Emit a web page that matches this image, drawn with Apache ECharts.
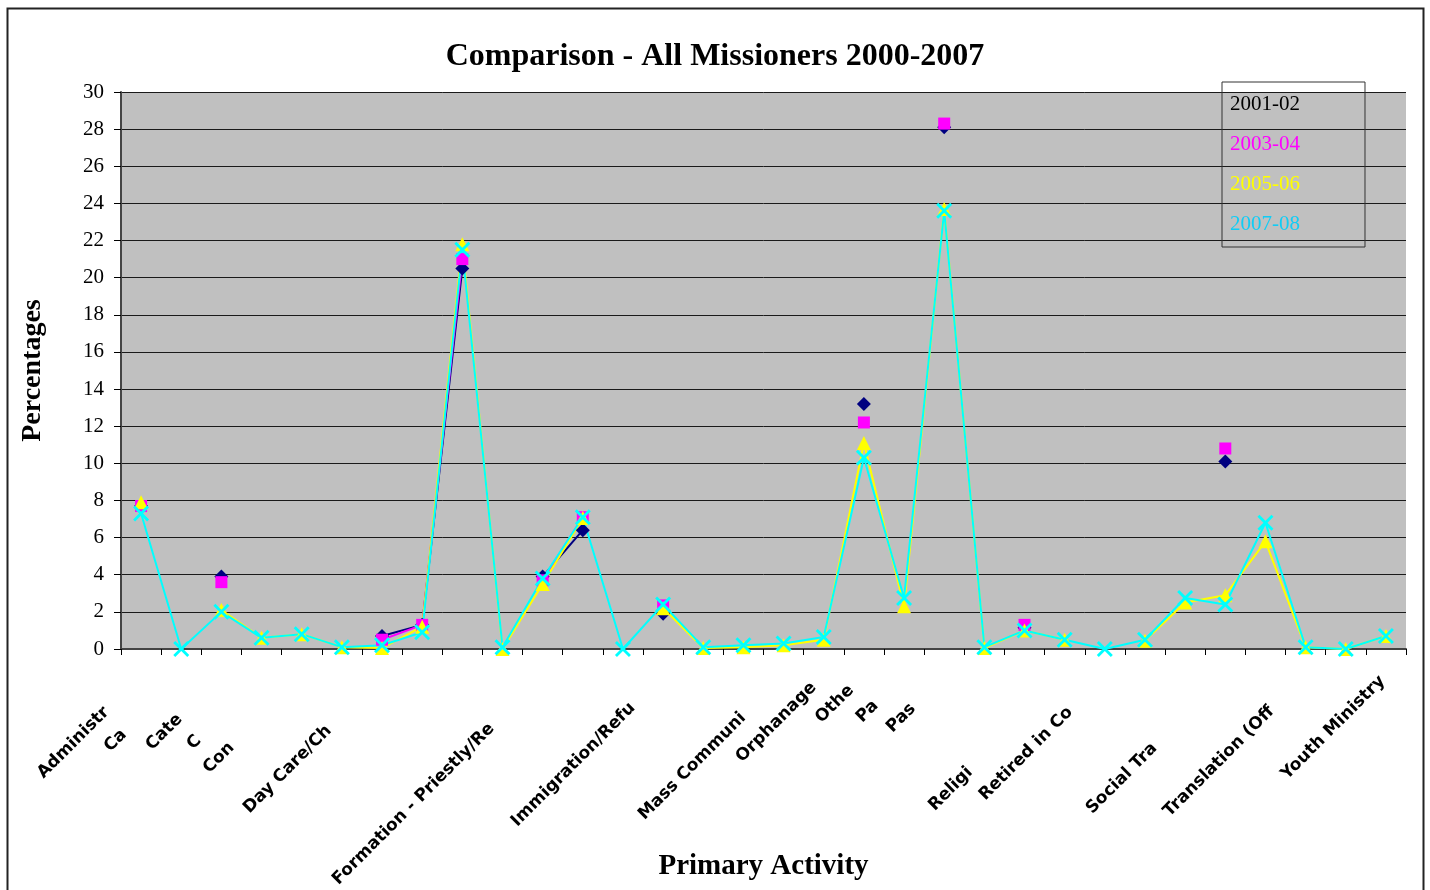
<!DOCTYPE html>
<html>
<head>
<meta charset="utf-8">
<script src="https://cdn.jsdelivr.net/npm/echarts@6/dist/echarts.min.js"></script>
<style>
  html, body { margin: 0; padding: 0; background: #fff; }
  #chart { width: 1430px; height: 890px; }
</style>
</head>
<body>
<div id="chart"></div>
<script>
// category labels as they show on the axis (cut off in the original)
var categories = [
  'Administr', 'Ca', 'Cate', 'C', 'Con', '', 'Day Care/Ch', '', '', '',
  'Formation - Priestly/Re', '', '', 'Immigration/Refu', '', '', 'Mass Communi', 'Orphanage', 'Othe', 'Pa',
  'Pas', '', '', 'Religi', 'Retired in Co', '', '', 'Social Tra', '', 'Translation (Off',
  '', 'Youth Ministry'
];

var seriesNames = ['2001-02', '2003-04', '2005-06', '2007-08'];

// percentages
var y2001 = [7.7, null, 3.9, null, null, null, 0.7, 1.3, 20.5, null,
  3.9, 6.4, null, 1.9, null, null, null, null, 13.2, null,
  28.1, null, 1.15, null, null, null, null, 10.1, null, null,
  null, null];
var y2003 = [7.7, null, 3.6, null, null, null, 0.5, 1.3, 21.0, null,
  3.7, 7.1, null, 2.35, null, null, null, null, 12.2, null,
  28.3, null, 1.3, null, null, null, null, 10.8, null, null,
  null, null];
var y2005 = [7.9, null, 2.1, 0.6, 0.8, 0.1, 0.05, 1.2, 21.8, 0,
  3.5, 7.05, null, 2.2, 0.05, 0.1, 0.2, 0.5, 11.1, 2.3,
  23.7, 0.05, 1.0, 0.5, null, 0.45, 2.5, 2.9, 5.8, 0.1,
  0, 0.7];
var y2007 = [7.3, 0, 2.0, 0.6, 0.8, 0.1, 0.2, 0.9, 21.5, 0.1,
  3.8, 7.1, 0, 2.4, 0.1, 0.2, 0.3, 0.65, 10.3, 2.75,
  23.6, 0.1, 1.0, 0.5, 0, 0.5, 2.75, 2.4, 6.8, 0.1,
  0, 0.7];

// extra space after each label so the cut labels sit lower, like the original
var labelShift = [49, 81, 59, 89, 99, 0, 75, 0, 0, 0,
  72, 0, 0, 43, 0, 0, 57, 14, 18, 40,
  44, 0, 0, 134, 49, 0, 0, 100, 0, 48,
  0, 5];

var colors = ['#000080', '#FF00FF', '#FFFF00', '#00FFFF'];
var legendColors = ['#000000', '#FF00FF', '#FFFF00', '#11CCF5'];
var crossPath = 'path://M0,1.5L1.5,0L6,4.5L10.5,0L12,1.5L7.5,6L12,10.5L10.5,12L6,7.5L1.5,12L0,10.5L4.5,6Z';

var rich = {};
labelShift.forEach(function (s, i) {
  rich['p' + i] = {
    fontFamily: 'DejaVu Sans',
    fontWeight: 'bold',
    fontSize: 17,
    color: '#000',
    padding: [0, s, 0, 0]
  };
});

var chart = echarts.init(document.getElementById('chart'));

function makeSeries(idx, data, symbol, size) {
  return {
    name: seriesNames[idx],
    type: 'line',
    data: data,
    symbol: symbol,
    symbolSize: size,
    showSymbol: true,
    showAllSymbol: true,
    connectNulls: false,
    lineStyle: { color: colors[idx], width: 2 },
    itemStyle: { color: colors[idx], borderWidth: 0 },
    emphasis: { disabled: true }
  };
}

var option = {
  animation: false,
  backgroundColor: '#fff',
  title: {
    text: 'Comparison - All Missioners 2000-2007',
    left: 'center',
    top: 36,
    textStyle: {
      fontFamily: 'Liberation Serif',
      fontWeight: 'bold',
      fontSize: 32,
      color: '#000'
    }
  },
  legend: {
    orient: 'vertical',
    left: 1222,
    top: 82,
    icon: 'none',
    itemWidth: 0,
    itemHeight: 20,
    itemGap: 19,
    padding: [12, 65, 12, 3],
    borderColor: '#333',
    borderWidth: 1,
    selectedMode: false,
    textStyle: { fontFamily: 'Liberation Serif', fontSize: 21, lineHeight: 21, padding: 0 },
    data: seriesNames.map(function (n, i) {
      return { name: n, icon: 'none', textStyle: { color: legendColors[i] } };
    })
  },
  grid: {
    left: 121,
    right: 24,
    top: 92,
    bottom: 241,
    outerBoundsMode: 'none',
    containLabel: false,
    show: true,
    backgroundColor: '#C0C0C0',
    borderWidth: 0
  },
  xAxis: {
    type: 'category',
    data: categories,
    boundaryGap: true,
    name: 'Primary Activity',
    nameLocation: 'middle',
    nameGap: 203,
    nameMoveOverlap: false,
    nameTextStyle: {
      fontFamily: 'Liberation Serif',
      fontWeight: 'bold',
      fontSize: 29,
      color: '#000'
    },
    axisLine: { show: true, lineStyle: { color: '#444', width: 2 } },
    axisTick: { show: true, interval: 0, length: 6, lineStyle: { color: '#000' } },
    splitLine: { show: false },
    axisLabel: {
      interval: 0,
      rotate: 45,
      margin: 26,
      hideOverlap: false,
      formatter: function (v, i) {
        return v ? '{p' + i + '|' + v + '}' : '';
      },
      rich: rich
    }
  },
  yAxis: {
    type: 'value',
    min: 0,
    max: 30,
    interval: 2,
    name: 'Percentages',
    nameLocation: 'middle',
    nameRotate: 90,
    nameGap: 74,
    nameMoveOverlap: false,
    nameTextStyle: {
      fontFamily: 'Liberation Serif',
      fontWeight: 'bold',
      fontSize: 28,
      color: '#000'
    },
    axisLine: { show: true, lineStyle: { color: '#444', width: 2 } },
    axisTick: { show: true, length: 7, lineStyle: { color: '#000' } },
    splitLine: { show: true, lineStyle: { color: '#1a1a1a', width: 1 } },
    axisLabel: {
      margin: 17,
      fontFamily: 'Liberation Serif',
      fontSize: 21,
      color: '#000'
    }
  },
  graphic: [{
    type: 'rect',
    shape: { x: 7.5, y: 8.5, width: 1416, height: 890 },
    style: { fill: 'none', stroke: '#222', lineWidth: 2 },
    silent: true
  }],
  series: [
    makeSeries(0, y2001, 'diamond', 14),
    makeSeries(1, y2003, 'rect', 12),
    makeSeries(2, y2005, 'triangle', 14),
    makeSeries(3, y2007, crossPath, 16)
  ]
};

chart.setOption(option);
</script>
</body>
</html>
